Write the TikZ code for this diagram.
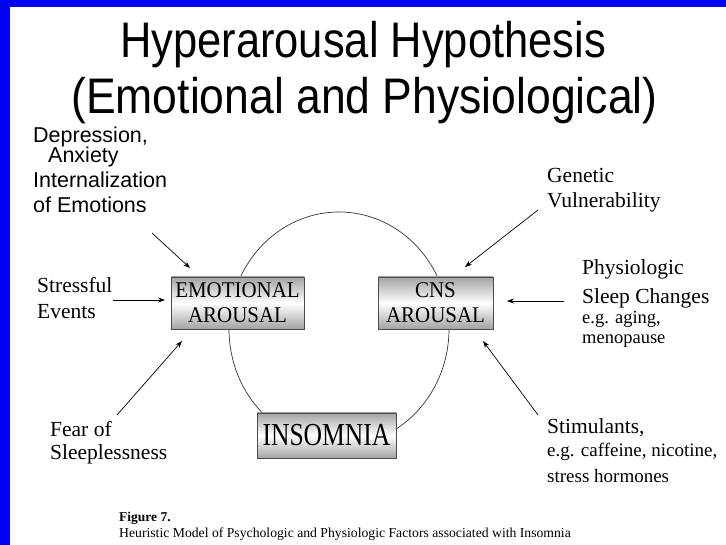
\documentclass[tikz,border=0pt]{standalone}
\usepackage{fontspec}
\setmainfont{Liberation Serif}
\newfontfamily\arialf{Liberation Sans}
\usetikzlibrary{arrows.meta}
\definecolor{slideblue}{RGB}{0,0,245}
\begin{document}
\begin{tikzpicture}[x=1pt,y=-1pt,
  box/.style={draw=black!70, line width=0.8pt, top color=gray!72, bottom color=gray!72, middle color=white,
    inner sep=0pt, align=center},
  arr/.style={-{Stealth[length=7pt,width=5pt]}, line width=0.7pt},
  lbl/.style={inner sep=0pt, anchor=base west},
  big/.style={font=\fontsize{21.5}{26}\selectfont},
]
\useasboundingbox (0,0) rectangle (726,545);
\fill[white] (0,0) rectangle (726,545);
\fill[slideblue] (0,0) rectangle (726,7);
\fill[slideblue] (0,0) rectangle (9.5,545);

% title
\node[inner sep=0pt, anchor=base, font=\arialf\fontsize{50}{54}\selectfont] (t1) at (363,58) {\scalebox{0.87}[1]{Hyperarousal Hypothesis}};
\node[inner sep=0pt, anchor=base, font=\arialf\fontsize{50}{54}\selectfont] (t2) at (364.5,114) {\scalebox{0.89}[1]{(Emotional and Physiological)}};

% cycle
\draw[line width=0.7pt, black!80] (339,329) ellipse [x radius=110, y radius=117];

% boxes
\node[box, minimum width=133pt, minimum height=52pt, font=\fontsize{22.5}{25}\selectfont] (emo) at (237.5,303)
  {\scalebox{0.93}[1]{EMOTIONAL}\\\scalebox{0.93}[1]{AROUSAL}};
\node[box, minimum width=115pt, minimum height=52pt, font=\fontsize{22.5}{25}\selectfont] (cns) at (435.5,303)
  {\scalebox{0.93}[1]{CNS}\\\scalebox{0.93}[1]{AROUSAL}};
\node[box, minimum width=139pt, minimum height=45pt, font=\fontsize{32}{34}\selectfont] (ins) at (326.5,435.5)
  {\scalebox{0.8}[1]{INSOMNIA}};

% labels
\node[lbl, font=\arialf\fontsize{21.5}{25}\selectfont] (dep) at (33,143)
  {\begin{tabular}[t]{@{}l@{}}Depression,\\[-5pt]\hspace*{15pt}Anxiety\\Internalization\\of Emotions\end{tabular}};
\node[lbl, big] (str) at (37,293) {\begin{tabular}[t]{@{}l@{}}Stressful\\Events\end{tabular}};
\node[lbl, big] (fear) at (50,436) {\begin{tabular}[t]{@{}l@{}}Fear of\\[-3pt]Sleeplessness\end{tabular}};
\node[lbl, big] (gen) at (547,183) {\begin{tabular}[t]{@{}l@{}}Genetic\\[-1pt]Vulnerability\end{tabular}};
\node[lbl, big] (phy) at (582,275) {\begin{tabular}[t]{@{}l@{}}Physiologic\\[3pt]Sleep Changes\\[-6pt]{\fontsize{18.5}{22}\selectfont e.g. aging,}\\[-6pt]{\fontsize{18.5}{22}\selectfont menopause}\end{tabular}};
\node[lbl, big] (stim) at (547,433) {\begin{tabular}[t]{@{}l@{}}Stimulants,\\[-2pt]{\fontsize{19}{22}\selectfont e.g. caffeine, nicotine,}\\[0pt]{\fontsize{19}{22}\selectfont stress hormones}\end{tabular}};

% caption
\node[lbl, font=\bfseries\fontsize{13.5}{15}\selectfont] (figno) at (119,521) {Figure 7.};
\node[lbl, font=\fontsize{13.7}{15}\selectfont] (cap) at (119,537) {Heuristic Model of Psychologic and Physiologic Factors associated with Insomnia};

% arrows
\coordinate (depS) at (152,233); \coordinate (depE) at (190,268);
\coordinate (strS) at (113,300); \coordinate (strE) at (165,300);
\coordinate (fearS) at (117,415); \coordinate (fearE) at (182,341);
\coordinate (genS) at (538,210); \coordinate (genE) at (465,267);
\coordinate (phyS) at (564,301); \coordinate (phyE) at (507,301);
\coordinate (stimS) at (538,415); \coordinate (stimE) at (483,341);
\draw[arr] (depS) -- (depE);
\draw[arr] (strS) -- (strE);
\draw[arr] (fearS) -- (fearE);
\draw[arr] (genS) -- (genE);
\draw[arr] (phyS) -- (phyE);
\draw[arr] (stimS) -- (stimE);
\end{tikzpicture}
\end{document}
